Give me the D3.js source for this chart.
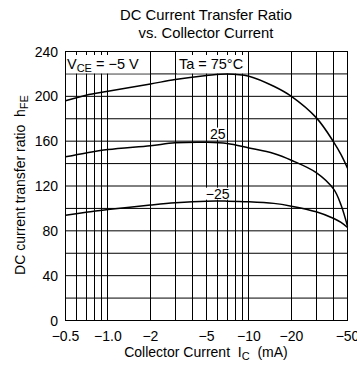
<!DOCTYPE html>
<html>
<head>
<meta charset="utf-8">
<script src="https://cdn.jsdelivr.net/npm/d3@7"></script>
<style>
body { margin: 0; background: #fff; }
text { font-family: "Liberation Sans", Arial, sans-serif; fill: #000; white-space: pre; }
</style>
</head>
<body>
<svg id="grafico" width="357" height="377"></svg>
<script>
// dados (Ic em mA, valor absoluto)
let correntes = [0.5, 0.7, 1, 2, 3, 5, 7, 10, 15, 20, 30, 40, 45, 50];
let hfe75  = [196, 201, 204.5, 211, 215, 218.5, 220, 218, 209, 200, 181, 159, 148, 136];
let hfe25  = [146, 149.5, 152.5, 156, 158.5, 159, 158, 154, 149, 143, 132, 117, 103, 84];
let hfeM25 = [94, 96.5, 99, 103, 105, 106.5, 106.5, 106, 104.5, 102, 97, 91, 87.5, 83];

let ticksX = [0.5, 1, 2, 5, 10, 20, 50];
let rotulosX = ['−0.5', '−1.0', '−2', '−5', '−10', '−20', '−50'];
let ticksY = [0, 40, 80, 120, 160, 200, 240];
let gradeX = [0.5, 0.6, 0.7, 0.8, 0.9, 1, 2, 3, 4, 5, 6, 7, 8, 9, 10, 20, 30, 40, 50];
let gradeY = [20, 40, 60, 80, 100, 120, 140, 160, 180, 200, 220];

let svg = d3.select('#grafico');
let esq = 65.5, dir = 347.5, topo = 51.5, base = 320.5;

let fnx = d3.scaleLog().domain([0.5, 50]).range([esq, dir]);
let fny = d3.scaleLinear().domain([0, 240]).range([base, topo]);
let px = v => Math.round(v - 0.5) + 0.5;

function texto(g, x, y, ancora, tam) {
    return g.append('text')
        .attr('x', x).attr('y', y)
        .attr('text-anchor', ancora)
        .style('font-size', tam + 'px');
}

// grade
svg.selectAll('.gx')
    .data(gradeX)
    .join('line')
    .attr('class', 'gx')
    .attr('x1', d => px(fnx(d))).attr('x2', d => px(fnx(d)))
    .attr('y1', topo).attr('y2', base)
    .attr('stroke', '#000').attr('stroke-width', 1);
svg.selectAll('.gy')
    .data(gradeY)
    .join('line')
    .attr('class', 'gy')
    .attr('x1', esq).attr('x2', dir)
    .attr('y1', d => fny(d)).attr('y2', d => fny(d))
    .attr('stroke', '#000').attr('stroke-width', 1);

// caixas brancas dos rotulos
svg.append('rect')
    .attr('x', esq + 0.5).attr('y', topo + 0.5)
    .attr('width', px(fnx(2)) - esq - 1)
    .attr('height', fny(220) - topo - 1)
    .attr('fill', '#fff');

let camadaTxt = svg.append('g');
let ta = texto(camadaTxt, 211, 68.5, 'middle', 14.5).text('Ta = 75°C');
let bb = ta.node().getBoundingClientRect();
svg.insert('rect', 'g')
    .attr('x', bb.left - 2).attr('y', topo + 0.5)
    .attr('width', px(fnx(10)) - (bb.left - 2) - 0.5)
    .attr('height', fny(220) - topo - 1)
    .attr('fill', '#fff');

let rotCurvas = [
    {t: '25', h: 162.3},
    {t: '−25', h: 108.7}
];
rotCurvas.forEach(r => {
    let t = texto(camadaTxt, fnx(6), fny(r.h), 'middle', 14).text(r.t);
    let b = t.node().getBoundingClientRect();
    svg.insert('rect', 'g')
        .attr('x', b.left - 1).attr('y', b.top + 2)
        .attr('width', b.width + 2).attr('height', b.height - 4)
        .attr('fill', '#fff');
});

// marcas curtas no topo
svg.selectAll('.mt')
    .data(gradeX)
    .join('line')
    .attr('class', 'mt')
    .attr('x1', d => px(fnx(d))).attr('x2', d => px(fnx(d)))
    .attr('y1', topo).attr('y2', topo + 3.5)
    .attr('stroke', '#000');

// moldura
svg.append('rect')
    .attr('x', esq).attr('y', topo)
    .attr('width', dir - esq).attr('height', base - topo)
    .attr('fill', 'none').attr('stroke', '#000');

// curvas
let linha = d3.line()
    .x((d, i) => fnx(correntes[i]))
    .y(d => fny(d))
    .curve(d3.curveCatmullRom.alpha(0.5));
[hfe75, hfe25, hfeM25].forEach(serie => {
    svg.append('path')
        .attr('d', linha(serie))
        .attr('fill', 'none')
        .attr('stroke', '#000')
        .attr('stroke-width', 1.5);
});
svg.node().appendChild(camadaTxt.node());

// Vce
let vce = texto(svg, 67, 68.5, 'start', 14.5);
vce.append('tspan').text('V');
vce.append('tspan').attr('dy', 3).style('font-size', '11px').text('CE');
vce.append('tspan').attr('dy', -3).text(' = −5 V');

// eixos
ticksY.forEach(v => {
    texto(svg, 58, fny(v) + 5, 'end', 14).text(v);
});
ticksX.forEach((v, i) => {
    texto(svg, fnx(v), 341, 'middle', 14).text(rotulosX[i]);
});

let tx = texto(svg, 206, 357, 'middle', 14);
tx.append('tspan').text('Collector Current  I');
tx.append('tspan').attr('dy', 3).style('font-size', '11px').text('C');
tx.append('tspan').attr('dy', -3).text('  (mA)');

let ty = svg.append('text')
    .attr('transform', `translate(25,185) rotate(-90)`)
    .attr('text-anchor', 'middle')
    .style('font-size', '14px');
ty.append('tspan').text('DC current transfer ratio  h');
ty.append('tspan').attr('dy', 3).style('font-size', '11px').text('FE');

// titulo
texto(svg, 206, 20, 'middle', 14.8).text('DC Current Transfer Ratio');
texto(svg, 206, 38, 'middle', 14.8).text('vs. Collector Current');
</script>
</body>
</html>
